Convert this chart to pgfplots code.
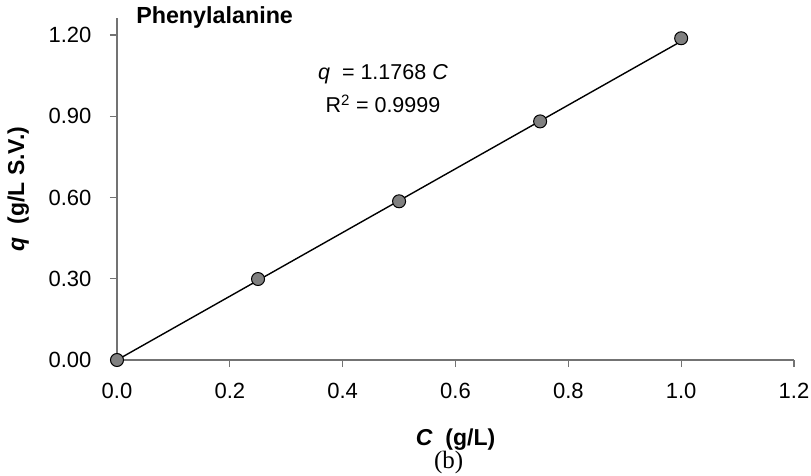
\documentclass[border=0pt]{standalone}
\usepackage{pgfplots}
\pgfplotsset{compat=1.18}
\usepackage{fontspec}
\setmainfont{Liberation Sans}
\newfontfamily\serifb{Liberation Serif}
\newcommand{\fs}{\fontsize{22}{26}\selectfont}
\newcommand{\fe}{\fontsize{21.5}{25}\selectfont}
\begin{document}
\begin{tikzpicture}
\useasboundingbox (-117pt,-116pt) rectangle (694pt,360pt);
\begin{axis}[
  at={(0,0)}, anchor=south west,
  scale only axis, width=677pt, height=342pt,
  xmin=0, xmax=1.2, ymin=0, ymax=1.2628,
  axis x line=bottom, axis y line=left,
  axis line style={-, draw=black!55, line width=1.3pt},
  xtick={0,0.2,0.4,0.6,0.8,1.0,1.2}, ytick={0,0.3,0.6,0.9,1.2},
  tick align=outside, major tick length=7pt,
  tick style={draw=black!55, line width=1.3pt},
  minor tick num=0,
  xticklabel style={/pgf/number format/fixed, /pgf/number format/fixed zerofill, /pgf/number format/precision=1, yshift=-13pt},
  yticklabel style={/pgf/number format/fixed, /pgf/number format/fixed zerofill, /pgf/number format/precision=2, xshift=-15pt},
  /pgf/number format/assume math mode=true,
  tick label style={font=\fs},
  label style={font=\fontsize{23}{27}\selectfont},
  xlabel={\textbf{\textit{C}\ \ (g/L)}},
  ylabel={\textbf{\textit{q}\ \ (g/L S.V.)}},
  xlabel style={at={(axis description cs:0.5,-0.234)}, anchor=center},
  ylabel style={at={(axis description cs:-0.146,0.5)}, anchor=center},
  clip=false,
]
\addplot[black, line width=1.4pt] coordinates {(0,0) (1.0,1.1768)};
\addplot[only marks, mark=*, mark size=6.5pt, mark options={fill=black!50, draw=black, line width=1pt}]
  coordinates {(0,0) (0.25,0.299) (0.5,0.586) (0.75,0.881) (1.0,1.188)};
\node[font=\fe] at (axis cs:0.4715,1.056) {\textit{q}\ \ = 1.1768 \textit{C}};
\node[font=\fe] at (axis cs:0.4715,0.945) {R\textsuperscript{2} = 0.9999};
\node[font=\fontsize{23.3}{27}\selectfont\bfseries] at (axis cs:0.173,1.263) {Phenylalanine};
\node[font=\fontsize{25}{28}\selectfont\serifb] at (axis description cs:0.49,-0.3) {(b)};
\end{axis}
\end{tikzpicture}
\end{document}
